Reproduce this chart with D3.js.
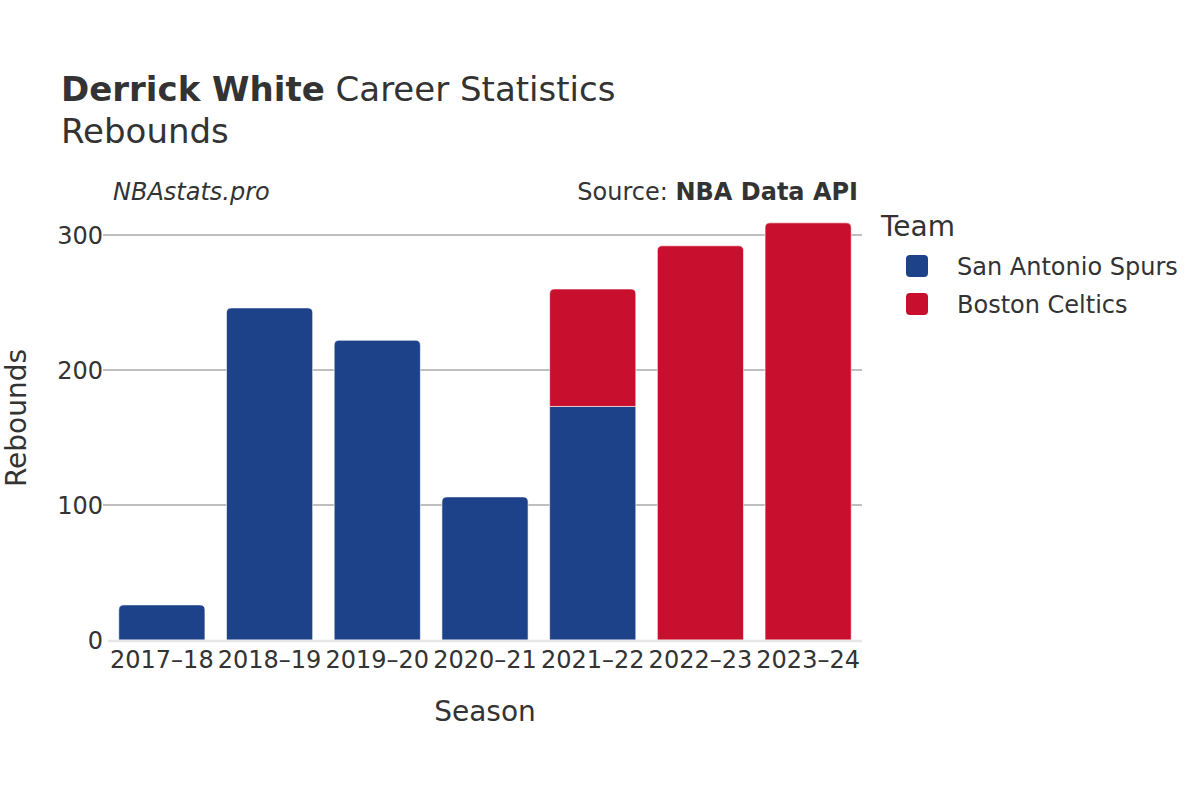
<!DOCTYPE html>
<html>
<head>
<meta charset="utf-8">
<script src="https://cdn.jsdelivr.net/npm/d3@7"></script>
<style>
  html, body { margin: 0; padding: 0; background: #fff; }
  svg { display: block; font-family: "DejaVu Sans", sans-serif; }
</style>
</head>
<body>
<svg id="chart" width="1200" height="800"></svg>
<script>
const seasons = ["2017–18", "2018–19", "2019–20", "2020–21", "2021–22", "2022–23", "2023–24"];
const teams = ["San Antonio Spurs", "Boston Celtics"];
const teamColors = ["#1d428a", "#c8102e"];
const spursRebounds = [26, 246, 222, 106, 173, 0, 0];
const celticsRebounds = [0, 0, 0, 0, 87, 292, 309];
const yTicks = [0, 100, 200, 300];

const svg = d3.select("#chart");
const margin = { left: 108, right: 862, top: 235, bottom: 640 };

const x = d3.scaleBand().domain(seasons).range([margin.left, margin.right]).paddingInner(0.2).paddingOuter(0.1);
const y = d3.scaleLinear().domain([0, 300]).range([margin.bottom, margin.top]);

const textColor = "#333";

// gridlines
svg.append("g").selectAll("line").data(yTicks.filter(d => d > 0)).join("line")
  .attr("x1", margin.left - 5).attr("x2", margin.right)
  .attr("y1", d => y(d)).attr("y2", d => y(d))
  .attr("stroke", "#7f7f7f").attr("stroke-width", 1);

// y axis labels
svg.append("g").selectAll("text").data(yTicks).join("text")
  .attr("x", margin.left - 5).attr("y", d => y(d)).attr("dy", "0.36em")
  .attr("text-anchor", "end").attr("font-size", 24).attr("fill", textColor)
  .text(d => d);

// stacked data
const rows = seasons.map((s, i) => ({ season: s, "San Antonio Spurs": spursRebounds[i], "Boston Celtics": celticsRebounds[i] }));
const stack = d3.stack().keys(teams)(rows);

function barPath(x0, x1, yTop, yBot, r) {
  r = Math.min(r, (yBot - yTop), (x1 - x0) / 2);
  return `M${x0},${yBot}V${yTop + r}Q${x0},${yTop} ${x0 + r},${yTop}H${x1 - r}Q${x1},${yTop} ${x1},${yTop + r}V${yBot}Z`;
}

const topKey = seasons.map((s, i) => celticsRebounds[i] > 0 ? "Boston Celtics" : "San Antonio Spurs");

stack.forEach((layer, li) => {
  svg.append("g").selectAll("path").data(layer.filter(d => d[1] - d[0] > 0)).join("path")
    .attr("d", d => {
      const i = seasons.indexOf(d.data.season);
      const x0 = x(d.data.season), x1 = x0 + x.bandwidth();
      const r = topKey[i] === layer.key ? 5 : 0;
      return barPath(x0, x1, y(d[1]), y(d[0]), r);
    })
    .attr("fill", teamColors[li])
    .attr("stroke", "#fff").attr("stroke-width", 0.6);
});

// zero line
svg.append("line").attr("x1", margin.left).attr("x2", margin.right)
  .attr("y1", y(0) + 1).attr("y2", y(0) + 1)
  .attr("stroke", "#e6e6e6").attr("stroke-width", 2.5);

// x labels
svg.append("g").selectAll("text").data(seasons).join("text")
  .attr("x", d => x(d) + x.bandwidth() / 2).attr("y", 668)
  .attr("text-anchor", "middle").attr("font-size", 24).attr("fill", textColor)
  .text(d => d);

// axis titles
svg.append("text").attr("x", 485).attr("y", 721).attr("text-anchor", "middle")
  .attr("font-size", 28).attr("fill", textColor).text("Season");
svg.append("text").attr("transform", "translate(26,418) rotate(-90)").attr("text-anchor", "middle")
  .attr("font-size", 28).attr("fill", textColor).text("Rebounds");

// title
const title = svg.append("text").attr("x", 61).attr("y", 101).attr("font-size", 34).attr("fill", textColor);
title.append("tspan").attr("font-weight", "bold").text("Derrick White");
title.append("tspan").text(" Career Statistics");
svg.append("text").attr("x", 61).attr("y", 143).attr("font-size", 34).attr("fill", textColor).text("Rebounds");

// subtitle annotations
svg.append("text").attr("x", 113).attr("y", 200).attr("font-size", 24).attr("font-style", "italic")
  .attr("fill", textColor).text("NBAstats.pro");
const src = svg.append("text").attr("x", 858).attr("y", 200).attr("text-anchor", "end")
  .attr("font-size", 24).attr("fill", textColor);
src.append("tspan").text("Source: ");
src.append("tspan").attr("font-weight", "bold").text("NBA Data API");

// legend
svg.append("text").attr("x", 881).attr("y", 236).attr("font-size", 28).attr("fill", textColor).text("Team");
const lg = svg.append("g").selectAll("g").data(teams).join("g")
  .attr("transform", (d, i) => `translate(906,${255 + i * 38})`);
lg.append("rect").attr("width", 22).attr("height", 22).attr("rx", 4)
  .attr("fill", (d, i) => teamColors[i]);
lg.append("text").attr("x", 51).attr("y", 11).attr("dy", "0.36em")
  .attr("font-size", 24).attr("fill", textColor).text(d => d);
</script>
</body>
</html>
